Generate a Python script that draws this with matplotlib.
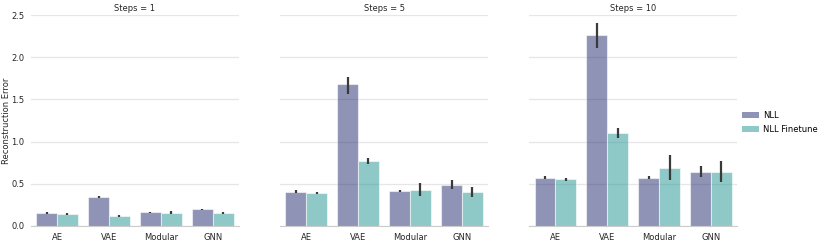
import numpy as np
import matplotlib
matplotlib.use("Agg")
import matplotlib.pyplot as plt
from matplotlib.patches import Patch

models = ["AE", "VAE", "Modular", "GNN"]
steps = [1, 5, 10]
series = ["NLL", "NLL Finetune"]

# mean values, [steps][model]
nll = [[0.150, 0.344, 0.162, 0.197],
       [0.407, 1.678, 0.415, 0.486],
       [0.573, 2.259, 0.573, 0.644]]
nll_ft = [[0.142, 0.118, 0.158, 0.154],
          [0.391, 0.766, 0.427, 0.399],
          [0.553, 1.102, 0.687, 0.636]]
# error bar ranges (low, high)
nll_lo = [[0.140, 0.334, 0.154, 0.190],
          [0.390, 1.570, 0.400, 0.442],
          [0.555, 2.109, 0.560, 0.577]]
nll_hi = [[0.160, 0.354, 0.170, 0.206],
          [0.424, 1.770, 0.430, 0.545],
          [0.590, 2.405, 0.587, 0.715]]
ft_lo = [[0.134, 0.110, 0.140, 0.140],
         [0.378, 0.730, 0.351, 0.344],
         [0.538, 1.039, 0.545, 0.517]]
ft_hi = [[0.150, 0.126, 0.176, 0.168],
         [0.404, 0.810, 0.506, 0.458],
         [0.568, 1.165, 0.841, 0.766]]

colors = ["#333a78", "#319b99"]
alpha = 0.55
fs = 6

fig, axes = plt.subplots(1, 3, figsize=(8.18, 2.44), dpi=100, sharey=True)
fig.subplots_adjust(left=0.038, right=0.901, bottom=0.074, top=0.938, wspace=0.2)

x = np.arange(len(models))
w = 0.4
for i, ax in enumerate(axes):
    for j, (vals, lo, hi) in enumerate([(nll[i], nll_lo[i], nll_hi[i]),
                                         (nll_ft[i], ft_lo[i], ft_hi[i])]):
        pos = x + (j - 0.5) * w
        ax.bar(pos, vals, width=w, color=colors[j], alpha=alpha,
               edgecolor="white", linewidth=0.8, zorder=2)
        ax.vlines(pos, lo, hi, color="#3a3a3a", linewidth=1.6, zorder=3)
    ax.set_ylim(0, 2.5)
    ax.set_xlim(-0.5, 3.5)
    ax.set_yticks([0, 0.5, 1.0, 1.5, 2.0, 2.5])
    ax.set_xticks(x)
    ax.set_xticklabels(models)
    ax.set_title(f"Steps = {steps[i]}", fontsize=fs, color="#262626", pad=3)
    ax.grid(axis="y", color="#e6e6e6", linewidth=0.9, zorder=0)
    ax.set_axisbelow(True)
    for s in ["left", "top", "right"]:
        ax.spines[s].set_visible(False)
    ax.spines["bottom"].set_color("#cccccc")
    ax.tick_params(axis="x", labelsize=fs, length=0, pad=5, colors="#262626")
    ax.tick_params(axis="y", labelsize=fs, length=0, pad=5, colors="#262626")

axes[0].set_ylabel("Reconstruction Error", fontsize=fs, color="#262626")
axes[0].yaxis.set_label_coords(-0.095, 0.5)

handles = [Patch(facecolor=colors[k], alpha=alpha, edgecolor="none", label=series[k])
           for k in range(2)]
fig.legend(handles=handles, loc="center left", bbox_to_anchor=(0.903, 0.5),
           frameon=False, fontsize=fs, handlelength=2.0, handletextpad=0.5,
           labelspacing=0.6, borderaxespad=0)

fig.savefig("out.png", dpi=100)
